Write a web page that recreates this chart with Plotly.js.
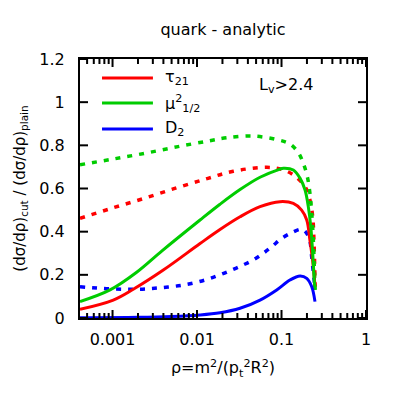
<!DOCTYPE html>
<html>
<head>
<meta charset="utf-8">
<script src="https://cdn.plot.ly/plotly-3.0.1.min.js"></script>
<style>html,body{margin:0;padding:0;background:#fff}#chart{width:399px;height:399px}</style>
</head>
<body>
<div id="chart"></div>
<script>
// values, solid = cut, dotted = second set
const tauRho   = [0.000412,0.00102,0.00176,0.00399,0.01086,0.0187,0.0323,0.0557,0.096,0.138,0.173,0.199,0.217,0.238,0.249];
const tauVal   = [0.040,0.083,0.133,0.222,0.345,0.410,0.469,0.516,0.539,0.531,0.50,0.454,0.36,0.238,0.145];
const muRho    = [0.000412,0.000934,0.00193,0.00382,0.01086,0.0187,0.0323,0.0557,0.096,0.105,0.138,0.166,0.190,0.2075,0.222,0.234,0.2425,0.249];
const muVal    = [0.076,0.130,0.212,0.310,0.454,0.527,0.595,0.652,0.690,0.694,0.686,0.647,0.593,0.516,0.423,0.30,0.191,0.13];
const dRho     = [0.000412,0.002,0.005,0.01086,0.0187,0.0323,0.0557,0.0877,0.126,0.166,0.199,0.228,0.249];
const dVal     = [0.001,0.003,0.007,0.014,0.024,0.045,0.083,0.13,0.176,0.195,0.184,0.145,0.076];
const tauDRho  = [0.000412,0.000968,0.0024,0.00596,0.0135,0.0269,0.0668,0.1005,0.138,0.190,0.217,0.234,0.242,0.247,0.25];
const tauDVal  = [0.462,0.508,0.555,0.605,0.647,0.680,0.698,0.689,0.663,0.608,0.547,0.47,0.36,0.24,0.145];
const muDRho   = [0.000412,0.000968,0.0024,0.00596,0.0135,0.0225,0.0464,0.0917,0.126,0.158,0.181,0.202,0.217,0.228,0.238,0.2445,0.25];
const muDVal   = [0.71,0.735,0.763,0.794,0.820,0.835,0.843,0.825,0.806,0.766,0.717,0.655,0.578,0.485,0.361,0.238,0.13];
const dDRho    = [0.000412,0.000934,0.00193,0.00365,0.00689,0.01245,0.0187,0.0257,0.0353,0.0464,0.0609,0.0766,0.1005,0.132,0.173,0.199,0.217,0.228,0.238,0.249];
const dDVal    = [0.145,0.135,0.133,0.140,0.153,0.176,0.200,0.222,0.246,0.269,0.30,0.33,0.369,0.395,0.411,0.392,0.355,0.28,0.21,0.14];
const xTickVals  = [0.001,0.01,0.1,1];
const xTickText  = ['0.001','0.01','0.1','1'];
const yTickVals  = [0,0.2,0.4,0.6,0.8,1,1.2];
const names = ['τ<sub>21</sub>','μ<sup>2</sup><sub>1/2</sub>','D<sub>2</sub>'];
const colors = ['#ff0000','#00cc00','#0000ff'];

const minorVals = [];
for(let e=-4;e<0;e++) for(let k=2;k<=9;k++){ const v=k*Math.pow(10,e); if(v>0.000412) minorVals.push(v); }

const font = 'DejaVu Sans, sans-serif';
const dotted = '5px,7px';
const xrange = [Math.log10(0.000412),0], yrange = [0,1.2];
const W = 286, H = 259;               // plot area in px
function tr(x,y,c,dash){
  return {x:x,y:y,type:'scatter',mode:'lines',line:{color:c,width:dash==='solid'?3:3.5,dash:dash,shape:'spline',smoothing:1},
    showlegend:false,hoverinfo:'skip'};
}

// inward tick marks on all four sides, drawn as one segmented trace
const tx=[], ty=[];
const yLen = px => px/H*(yrange[1]-yrange[0]);
function xTick(v,len){ tx.push(v,v,null,v,v,null); ty.push(0,yLen(len),null,1.2,1.2-yLen(len),null); }
xTickVals.forEach(v=>xTick(v,8));
minorVals.forEach(v=>xTick(v,5));
const xl0 = Math.pow(10,xrange[0]), xl1 = Math.pow(10,xrange[0]+8/W*(xrange[1]-xrange[0]));
const xr0 = Math.pow(10,xrange[1]), xr1 = Math.pow(10,xrange[1]-8/W*(xrange[1]-xrange[0]));
yTickVals.forEach(v=>{ tx.push(xl0,xl1,null,xr0,xr1,null); ty.push(v,v,null,v,v,null); });

const data = [
  tr(tauDRho,tauDVal,colors[0],dotted),
  tr(muDRho,muDVal,colors[1],dotted),
  tr(dDRho,dDVal,colors[2],dotted),
  tr(tauRho,tauVal,colors[0],'solid'),
  tr(muRho,muVal,colors[1],'solid'),
  tr(dRho,dVal,colors[2],'solid'),
  {x:tx,y:ty,type:'scatter',mode:'lines',line:{color:'#000',width:2},connectgaps:false,showlegend:false,hoverinfo:'skip',cliponaxis:false}
];

// hand-drawn legend (long line samples as in reference)
const legY = [0.927,0.830,0.730];
const shapes = [], annotations = [];
for(let i=0;i<3;i++){
  shapes.push({type:'line',xref:'paper',yref:'paper',x0:0.077,x1:0.255,y0:legY[i],y1:legY[i],line:{color:colors[i],width:3}});
  annotations.push({xref:'paper',yref:'paper',x:0.29,y:legY[i],xanchor:'left',yanchor:'middle',showarrow:false,
    text:names[i],font:{family:font,size:16,color:'#000'}});
}
annotations.push({xref:'paper',yref:'paper',x:0.72,y:0.898,xanchor:'center',yanchor:'middle',showarrow:false,
  text:'L<sub>v</sub>>2.4',font:{family:font,size:16,color:'#000'}});

const layout = {
  width:399,height:399,
  margin:{l:80,r:33,t:59,b:81},
  paper_bgcolor:'#fff',plot_bgcolor:'#fff',
  font:{family:font,size:16,color:'#000'},
  title:{text:'quark - analytic',x:0.5,xref:'paper',xanchor:'center',y:30,yref:'container',yanchor:'middle',font:{family:font,size:16,color:'#000'}},
  xaxis:{type:'log',range:xrange,tickmode:'array',tickvals:xTickVals,ticktext:xTickText,
    ticks:'',showline:true,linecolor:'#000',linewidth:2,mirror:true,
    showgrid:false,zeroline:false,tickfont:{family:font,size:16},ticklabelstandoff:6,
    title:{text:'ρ=m<sup>2</sup>/(p<sub>t</sub><sup>2</sup>R<sup>2</sup>)',font:{family:font,size:16},standoff:14}},
  yaxis:{range:yrange,tickmode:'array',tickvals:yTickVals,
    ticks:'',showline:true,linecolor:'#000',linewidth:2,mirror:true,
    showgrid:false,zeroline:false,tickfont:{family:font,size:16},ticklabelstandoff:10,
    title:{text:'(dσ/dρ)<sub>cut</sub> / (dσ/dρ)<sub>plain</sub>',font:{family:font,size:15},standoff:10}},
  shapes:shapes,annotations:annotations
};
Plotly.newPlot('chart',data,layout,{displayModeBar:false,staticPlot:true});
</script>
</body>
</html>
